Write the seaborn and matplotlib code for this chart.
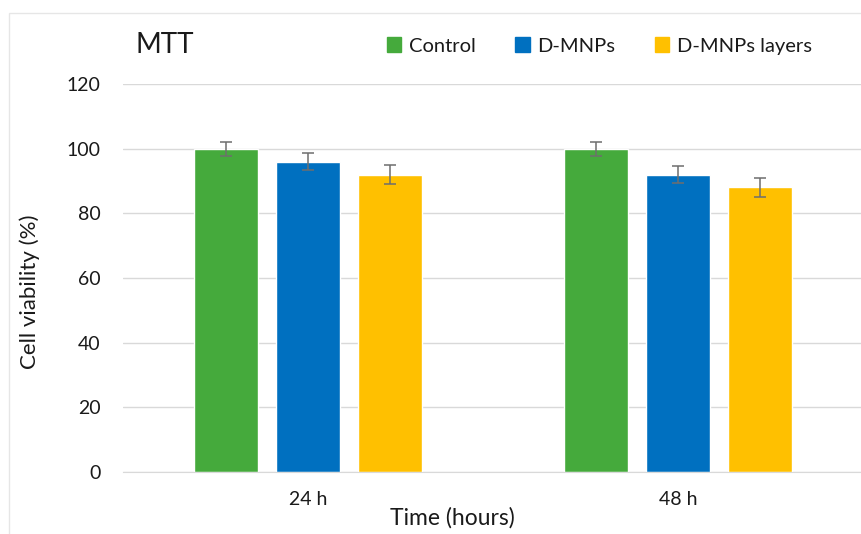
import matplotlib
matplotlib.use("Agg")
import matplotlib.pyplot as plt
import matplotlib.patches as mpatches
import seaborn as sns
import pandas as pd

times = ["24 h", "48 h"]
groups = ["Control", "D-MNPs", "D-MNPs layers"]
control = [100, 100]
dmnps = [96, 92]
layers = [92, 88]
control_err = [2.2, 2.2]
dmnps_err = [2.6, 2.6]
layers_err = [2.8, 2.8]
colors = ["#45AA3C", "#0070C0", "#FFC000"]

df = pd.DataFrame({
    "time": times * 3,
    "group": [g for g in groups for _ in times],
    "value": control + dmnps + layers,
    "err": control_err + dmnps_err + layers_err,
})

sns.set_style("white")
plt.rcParams["font.family"] = ["Lato", "DejaVu Sans"]
text_color = "#1a1a1a"

fig = plt.figure(figsize=(8.61, 5.34), dpi=100)
ax = fig.add_axes([123 / 861, 1 - 472 / 534, 740 / 861, (472 - 84) / 534])

sns.barplot(
    data=df,
    x="time",
    y="value",
    hue="group",
    hue_order=groups,
    palette=colors,
    saturation=1,
    width=0.665,
    gap=0.22,
    errorbar=None,
    legend=False,
    ax=ax
)

# error bars at the bar centres
for container, g in zip(ax.containers, groups):
    sub = df[df["group"] == g]
    xs = [p.get_x() + p.get_width() / 2 for p in container.patches]
    ax.errorbar(
        xs,
        sub["value"].values,
        yerr=sub["err"].values,
        fmt="none",
        ecolor="#6e6e6e",
        elinewidth=1.1,
        capsize=4,
        capthick=1.1,
        zorder=5
    )

ax.set_ylim(0, 120)
ax.set_yticks(range(0, 121, 20))
ax.set_xlim(-0.5, 1.5)
ax.yaxis.grid(True, color="#d9d9d9", linewidth=1)
ax.set_axisbelow(True)
for s in ["top", "right", "left"]:
    ax.spines[s].set_visible(False)
ax.spines["bottom"].set_color("#d9d9d9")
ax.tick_params(axis="both", length=0, labelsize=14, colors=text_color)
ax.tick_params(axis="x", pad=14)
ax.tick_params(axis="y", pad=16)

ax.set_xlabel("Time (hours)", fontsize=16.5, color=text_color)
ax.xaxis.set_label_coords(0.445, -0.09)
ax.set_ylabel("Cell viability (%)", fontsize=16, color=text_color)
ax.yaxis.set_label_coords(-0.112, 0.464)

fig.text(136 / 861, 1 - 45 / 534, "MTT", fontsize=20, color=text_color,
         va="center", ha="left")

handles = [mpatches.Patch(color=c, label=g) for c, g in zip(colors, groups)]
fig.legend(
    handles=handles,
    loc="center left",
    bbox_to_anchor=(369 / 861, 1 - 46 / 534),
    ncol=3,
    frameon=False,
    fontsize=14.5,
    handlelength=0.7,
    handleheight=0.7,
    handletextpad=0.4,
    columnspacing=1.95,
    labelcolor=text_color
)

# outer chart frame
fig.patches.append(mpatches.Rectangle(
    (9 / 861, -0.1), 1.2, 1 - 13 / 534 + 0.1,
    transform=fig.transFigure, fill=False,
    edgecolor="#e6e6e6", linewidth=1
))

fig.savefig("out.png", dpi=100)
